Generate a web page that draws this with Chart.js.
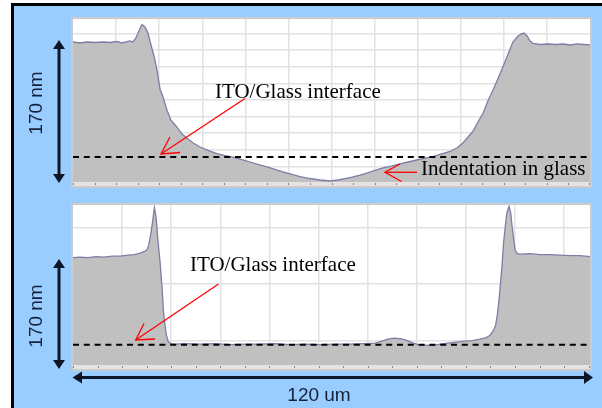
<!DOCTYPE html>
<html>
<head>
<meta charset="utf-8">
<title>ITO/Glass profile</title>
<script src="https://cdn.jsdelivr.net/npm/chart.js"></script>
<style>
  * { margin: 0; padding: 0; box-sizing: border-box; }
  body { width: 602px; height: 408px; background: #fff; overflow: hidden; position: relative; font-family: "Liberation Sans", Arial, sans-serif; }
  #frame { position: absolute; left: 11px; top: 3px; width: 591px; height: 405px; background: #99ccff; border-top: 3px solid #000; border-left: 3px solid #000; }
  .panel { position: absolute; left: 71px; width: 521px; background: #fff; border: 2px solid #cbcbcb; }
  canvas { position: absolute; left: 73px; }
  .lab { position: absolute; font-size: 19px; line-height: 19px; color: #14213a; white-space: nowrap; }
  .rot { transform: translate(-50%, -50%) rotate(-90deg); }
  .note { position: absolute; font-family: "Liberation Serif", "Times New Roman", serif; font-size: 21px; line-height: 21px; color: #000; white-space: nowrap; }
  svg { position: absolute; left: 0; top: 0; }
</style>
</head>
<body>
<div id="frame"></div>
<div class="panel" style="top:17px;height:171px"></div>
<div class="panel" style="top:203px;height:168px"></div>
<canvas id="top" width="517" height="167" style="top:19px"></canvas>
<canvas id="bottom" width="517" height="164" style="top:205px"></canvas>

<svg width="602" height="408">
  <g stroke="#0d1626" stroke-width="3" fill="#0d1626">
    <line x1="59" y1="47" x2="59" y2="176"/>
    <polygon points="59,40 53,49 65,49" stroke="none"/>
    <polygon points="59,183 53,174 65,174" stroke="none"/>
    <line x1="59" y1="266" x2="59" y2="362"/>
    <polygon points="59,259 53,268 65,268" stroke="none"/>
    <polygon points="59,369 53,360 65,360" stroke="none"/>
    <line x1="80" y1="377.5" x2="586" y2="377.5"/>
    <polygon points="72.5,377.5 82,371.5 82,383.5" stroke="none"/>
    <polygon points="593,377.5 584,371 584,384" stroke="none"/>
  </g>
  <g stroke="#ff0000" stroke-width="1.3" fill="none">
    <line x1="245" y1="98.5" x2="161" y2="154"/>
    <polyline points="170,137 161,154 180,152.5"/>
    <line x1="417" y1="172.3" x2="385" y2="172.3"/>
    <polyline points="400,164 385,172.3 401.5,181.5"/>
    <line x1="218.5" y1="284" x2="135.7" y2="340"/>
    <polyline points="144,323.5 135.7,340 155,339"/>
  </g>
</svg>

<div class="lab rot" style="left:35px;top:102.5px">170 nm</div>
<div class="lab rot" style="left:35px;top:316px">170 nm</div>
<div class="lab" style="left:319px;top:385px;transform:translateX(-50%)">120 um</div>
<div class="note" style="left:215px;top:81px">ITO/Glass interface</div>
<div class="note" style="left:190px;top:254px">ITO/Glass interface</div>
<div class="note" style="left:421px;top:158px">Indentation in glass</div>

<script>
// top scan: position (um) and height (nm)
const topX = [0,1.6,3.2,5.1,7.0,8.6,10.2,11.4,12.3,13.2,13.9,14.6,15.3,16.0,16.7,17.4,18.1,18.8,19.5,20.2,
  20.9,21.8,22.7,24.1,25.3,26.4,27.9,29.5,31.3,33.4,35.3,37.1,39.2,41.1,42.9,45.0,46.9,48.7,50.6,52.7,
  55.0,57.3,59.7,61.5,63.1,64.8,66.6,68.2,70.1,72.0,74.1,75.9,77.8,79.8,81.7,83.6,85.4,87.5,89.1,90.5,
  91.7,92.8,94.0,95.2,96.3,97.5,98.7,99.8,101.0,102.1,103.3,104.0,104.7,105.4,106.1,106.8,108.4,110.3,
  112.1,113.7,115.4,117.0,118.6,120];
const topH = [169.9,168.7,169.9,169.3,169.9,169.3,170.5,168.7,169.9,171.1,169.9,174.7,183.1,191.0,188.0,180.7,166.3,153.0,136.1,113.0,
  103.6,88.0,75.9,67.5,59.0,54.2,48.2,43.4,39.2,35.5,33.1,31.3,28.3,25.3,22.3,19.3,16.3,13.3,10.8,7.8,
  5.4,3.6,2.4,3.6,5.4,7.2,9.6,12.0,15.1,18.1,20.5,22.9,25.3,27.7,30.1,31.9,34.9,38.0,42.2,48.2,
  55.4,62.0,73.5,84.3,98.8,112.0,126.5,140.1,155.4,169.9,177.1,179.5,180.7,177.1,171.1,168.1,166.9,167.5,
  166.9,167.5,166.3,167.5,166.9,166.3];
const topInterface = 31.3;

// bottom scan
const bottomX = [0,1.6,3.5,5.3,7.2,9.1,10.9,12.8,14.2,15.6,16.5,17.2,17.6,18.1,18.6,18.9,19.3,19.7,20.2,20.7,
  21.0,21.4,21.7,22.1,22.7,23.7,26.0,29.5,33.0,36.4,39.9,43.4,46.9,50.4,53.9,57.3,60.8,64.3,67.8,70.1,
  71.7,73.1,74.5,75.9,77.3,78.7,80.1,81.7,83.6,85.2,87.0,88.9,90.8,92.6,94.5,95.9,96.8,97.5,98.1,98.5,
  98.9,99.2,99.6,99.9,100.3,100.7,101.2,101.6,101.9,102.3,102.6,103.1,103.8,106.1,108.4,110.7,113.0,115.4,
  117.7,120];
const bottomH = [170.1,170.9,170.1,171.7,170.9,172.4,172.4,174.0,174.8,177.2,179.5,182.7,190.6,209.4,233.1,249.6,233.1,198.4,163.8,119.7,
  85.0,59.8,47.2,37.0,33.9,33.1,33.9,33.1,33.9,32.3,33.1,33.1,33.9,32.3,33.1,32.3,33.1,33.1,33.9,34.6,
  37.8,40.9,42.5,41.7,39.4,35.4,32.3,31.5,30.7,33.1,34.6,36.2,37.8,38.6,40.9,43.3,47.2,53.5,63.0,80.3,
  103.9,127.6,159.0,190.6,217.3,240.9,251.2,240.9,220.5,198.4,182.7,176.4,175.6,176.4,174.8,174.8,174.0,173.2,
  173.2,171.7];
const bottomInterface = 32;

// grid lines and strip ticks
const topGridX = [10,20,30,40,50,60,70,80,90,100,110];
const topGridY = [20,40,60,80,100,120,140,160,180];
const bottomGridX = [11.4,22.8,34.2,45.6,57,68.4,79.8,91.2,102.6,114];
const bottomGridY = [38.5,128,217.5];
const topTickStep = 5;
const bottomTickStep = 5.7;

const stripPlugin = {
  id: 'strip',
  afterDraw(chart, args, opts) {
    const { ctx, chartArea } = chart;
    const sx = chart.scales.x;
    ctx.save();
    ctx.fillStyle = '#e7e3e3';
    ctx.fillRect(chartArea.left, chartArea.bottom, chartArea.width, chart.height - chartArea.bottom);
    ctx.fillStyle = '#8a8a8a';
    for (let v = 0; v <= 120.01; v += opts.step) {
      const px = Math.round(sx.getPixelForValue(v));
      ctx.fillRect(Math.min(px, chart.width - 1), chartArea.bottom + 1, 1, 2);
    }
    ctx.restore();
  }
};

function makeChart(id, xs, hs, level, yMin, yMax, gridX, gridY, step, stripH) {
  const profile = xs.map((x, i) => ({ x: x, y: hs[i] }));
  return new Chart(document.getElementById(id), {
    type: 'line',
    data: {
      datasets: [
        { data: profile, borderColor: '#7c7fa4', backgroundColor: '#c0c0c0', borderWidth: 1.3,
          pointRadius: 0, fill: 'start', tension: 0, order: 2 },
        { data: [{ x: 0, y: level }, { x: 120, y: level }], borderColor: '#000', borderWidth: 2,
          borderDash: [6, 4.8], pointRadius: 0, fill: false, order: 1 }
      ]
    },
    options: {
      responsive: false,
      animation: false,
      devicePixelRatio: 1,
      layout: { padding: { left: 0, right: 0, top: 0, bottom: stripH } },
      plugins: { legend: { display: false }, tooltip: { enabled: false }, strip: { step: step } },
      scales: {
        x: { type: 'linear', min: 0, max: 120,
             ticks: { display: false }, border: { display: false },
             grid: { color: '#e2e2e2', lineWidth: 1.5, drawTicks: false },
             afterBuildTicks: s => { s.ticks = gridX.map(v => ({ value: v })); } },
        y: { min: yMin, max: yMax,
             ticks: { display: false }, border: { display: false },
             grid: { color: '#e2e2e2', lineWidth: 1.5, drawTicks: false },
             afterBuildTicks: s => { s.ticks = gridY.map(v => ({ value: v })); } }
      }
    },
    plugins: [stripPlugin]
  });
}

makeChart('top', topX, topH, topInterface, 1.2, 197.6, topGridX, topGridY, topTickStep, 4);
makeChart('bottom', bottomX, bottomH, bottomInterface, 0, 253.5, bottomGridX, bottomGridY, bottomTickStep, 4);
</script>
</body>
</html>
